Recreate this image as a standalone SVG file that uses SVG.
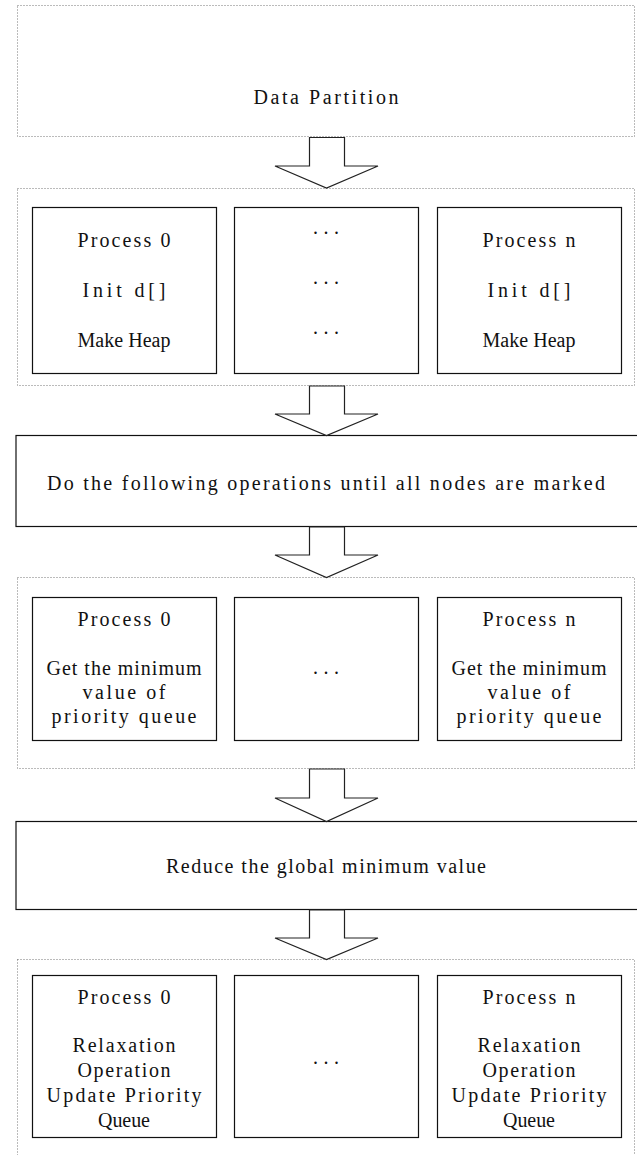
<svg xmlns="http://www.w3.org/2000/svg" width="637" height="1155" viewBox="0 0 637 1155">
<style>
.dot{fill:#fff;stroke:#777;stroke-width:1;stroke-dasharray:1 2}
.box{fill:#fff;stroke:#111;stroke-width:1.2}
.arr{fill:#fff;stroke:#222;stroke-width:1.2;stroke-linejoin:miter}
text{font-family:"Liberation Serif","Times New Roman",serif;font-size:20px;fill:#111;text-anchor:middle}
</style>
<rect width="637" height="1155" fill="#fff"/>
<g id="node-data-partition">
<rect class="dot" x="17.5" y="5.5" width="617" height="131"/>
<text x="326" y="104" textLength="145" lengthAdjust="spacing">Data Partition</text>
</g>
<g id="node-init">
<rect class="dot" x="17.5" y="188.5" width="617" height="197"/>
<g id="init-p0">
<rect class="box" x="32.5" y="207.5" width="184" height="166"/>
<text x="124" y="247" textLength="93" lengthAdjust="spacing">Process 0</text>
<text x="124" y="297" textLength="83" lengthAdjust="spacing">Init d[]</text>
<text x="124" y="347" textLength="93" lengthAdjust="spacing">Make Heap</text>
</g>
<g id="init-mid">
<rect class="box" x="234.5" y="207.5" width="184" height="166"/>
<text x="326" y="234" textLength="26" lengthAdjust="spacing">...</text>
<text x="326" y="284" textLength="26" lengthAdjust="spacing">...</text>
<text x="326" y="334" textLength="26" lengthAdjust="spacing">...</text>
</g>
<g id="init-pn">
<rect class="box" x="437.5" y="207.5" width="184" height="166"/>
<text x="529" y="247" textLength="93" lengthAdjust="spacing">Process n</text>
<text x="529" y="297" textLength="83" lengthAdjust="spacing">Init d[]</text>
<text x="529" y="347" textLength="93" lengthAdjust="spacing">Make Heap</text>
</g>
</g>
<g id="node-loop">
<rect class="box" x="16" y="435.5" width="622" height="91"/>
<text x="326" y="490" textLength="558" lengthAdjust="spacing">Do the following operations until all nodes are marked</text>
</g>
<g id="node-getmin">
<rect class="dot" x="17.5" y="577.5" width="617" height="191"/>
<g id="getmin-p0">
<rect class="box" x="32.5" y="597.5" width="184" height="143"/>
<text x="124" y="626" textLength="93" lengthAdjust="spacing">Process 0</text>
<text x="124" y="675" textLength="155" lengthAdjust="spacing">Get the minimum</text>
<text x="124" y="699" textLength="83" lengthAdjust="spacing">value of</text>
<text x="124" y="723" textLength="145" lengthAdjust="spacing">priority queue</text>
</g>
<g id="getmin-mid">
<rect class="box" x="234.5" y="597.5" width="184" height="143"/>
<text x="326" y="674" textLength="26" lengthAdjust="spacing">...</text>
</g>
<g id="getmin-pn">
<rect class="box" x="437.5" y="597.5" width="184" height="143"/>
<text x="529" y="626" textLength="93" lengthAdjust="spacing">Process n</text>
<text x="529" y="675" textLength="155" lengthAdjust="spacing">Get the minimum</text>
<text x="529" y="699" textLength="83" lengthAdjust="spacing">value of</text>
<text x="529" y="723" textLength="145" lengthAdjust="spacing">priority queue</text>
</g>
</g>
<g id="node-reduce">
<rect class="box" x="16" y="821.5" width="622" height="88"/>
<text x="326" y="873" textLength="320" lengthAdjust="spacing">Reduce the global minimum value</text>
</g>
<g id="node-relax">
<rect class="dot" x="17.5" y="959.5" width="617" height="210"/>
<g id="relax-p0">
<rect class="box" x="32.5" y="975.5" width="184" height="162"/>
<text x="124" y="1004" textLength="93" lengthAdjust="spacing">Process 0</text>
<text x="124" y="1052" textLength="103" lengthAdjust="spacing">Relaxation</text>
<text x="124" y="1077" textLength="93" lengthAdjust="spacing">Operation</text>
<text x="124" y="1102" textLength="155" lengthAdjust="spacing">Update Priority</text>
<text x="124" y="1127" textLength="52" lengthAdjust="spacing">Queue</text>
</g>
<g id="relax-mid">
<rect class="box" x="234.5" y="975.5" width="184" height="162"/>
<text x="326" y="1064" textLength="26" lengthAdjust="spacing">...</text>
</g>
<g id="relax-pn">
<rect class="box" x="437.5" y="975.5" width="184" height="162"/>
<text x="529" y="1004" textLength="93" lengthAdjust="spacing">Process n</text>
<text x="529" y="1052" textLength="103" lengthAdjust="spacing">Relaxation</text>
<text x="529" y="1077" textLength="93" lengthAdjust="spacing">Operation</text>
<text x="529" y="1102" textLength="155" lengthAdjust="spacing">Update Priority</text>
<text x="529" y="1127" textLength="52" lengthAdjust="spacing">Queue</text>
</g>
</g>
<g id="connectors">
<polygon class="arr" points="309.5,137.5 344.5,137.5 344.5,166 378,166 326.5,188 275,166 309.5,166"/>
<polygon class="arr" points="309.5,386 344.5,386 344.5,414 378,414 326.5,435.5 275,414 309.5,414"/>
<polygon class="arr" points="309.5,527 344.5,527 344.5,555 378,555 326.5,577.5 275,555 309.5,555"/>
<polygon class="arr" points="309.5,769 344.5,769 344.5,798 378,798 326.5,821.5 275,798 309.5,798"/>
<polygon class="arr" points="309.5,910 344.5,910 344.5,938 378,938 326.5,959.5 275,938 309.5,938"/>
</g>
</svg>
